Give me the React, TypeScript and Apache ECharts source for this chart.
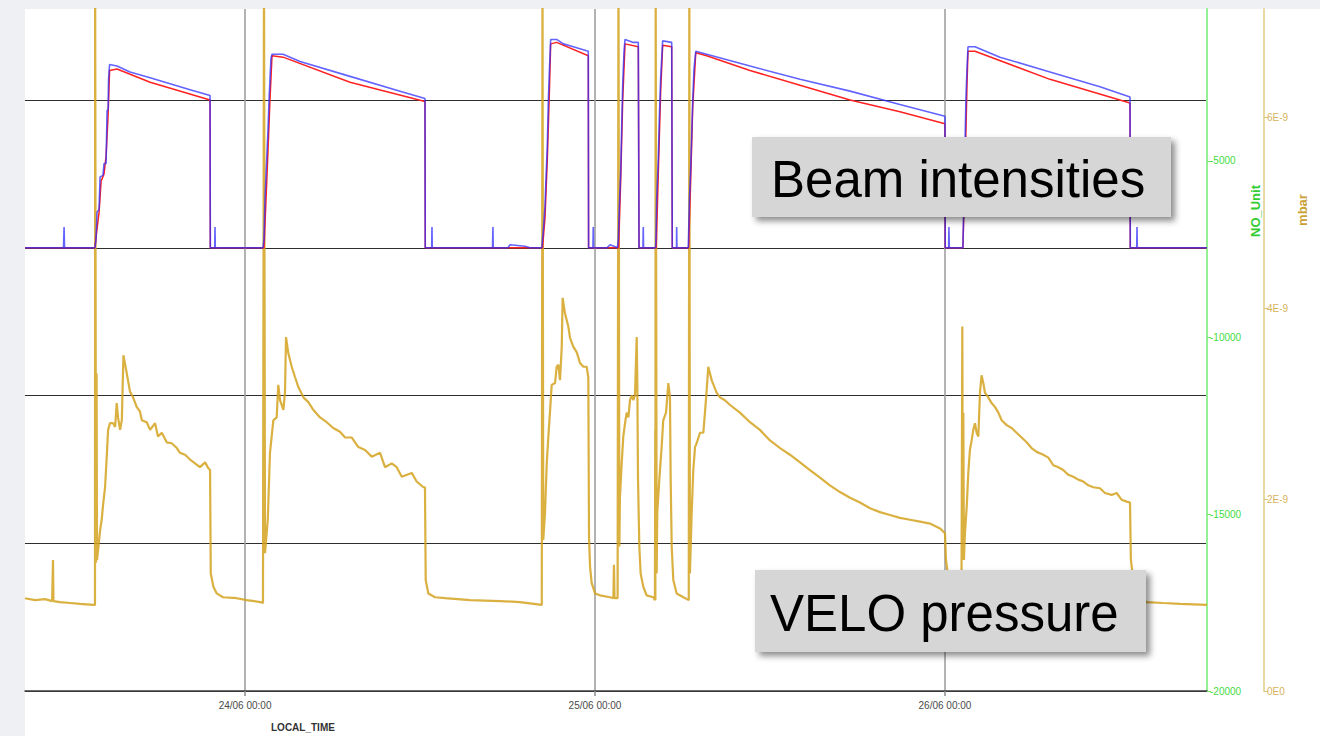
import React, { useEffect, useRef } from "react";
import * as echarts from "echarts";

// Time is kept in hours after 23/06 00:00 (UTC)
const DAY0 = Date.UTC(2010, 5, 23);
const HOUR = 3600 * 1000;
const timeStartH = 8.91;
const timeEndH = 89.97;

// VELO vacuum pressure, in units of 1E-9 mbar
const veloPressure: [number, number][] = [
  [8.91, 0.97], [9.6, 0.95], [10.29, 0.96], [10.77, 0.94], [10.83, 1.37], [10.86, 0.94], [11.31, 0.93], [12.0, 0.92],
  [12.69, 0.91], [13.58, 0.9], [13.71, 0.9], [13.72, 7.6], [13.78, 1.34], [13.82, 3.32], [13.85, 1.37], [13.92, 1.47],
  [14.06, 1.68], [14.17, 1.79], [14.26, 1.94], [14.4, 2.13], [14.54, 2.52], [14.61, 2.73], [14.74, 2.8], [14.95, 2.8],
  [15.09, 2.76], [15.2, 3.01], [15.29, 2.86], [15.43, 2.73], [15.55, 2.83], [15.66, 3.51], [15.89, 3.32], [16.11, 3.13],
  [16.32, 3.07], [16.57, 2.97], [16.8, 2.92], [16.92, 2.83], [17.26, 2.81], [17.49, 2.73], [17.83, 2.8], [18.03, 2.66],
  [18.29, 2.7], [18.63, 2.6], [18.97, 2.59], [19.32, 2.54], [19.54, 2.49], [19.89, 2.47], [20.23, 2.42], [20.57, 2.38],
  [20.91, 2.34], [21.26, 2.39], [21.48, 2.33], [21.6, 2.31], [21.65, 1.23], [21.83, 1.09], [22.06, 1.02], [22.49, 0.98],
  [23.43, 0.97], [24.12, 0.95], [25.03, 0.93], [25.23, 0.92], [25.3, 7.6], [25.37, 1.44], [25.56, 1.79], [25.71, 2.49],
  [25.94, 2.83], [26.17, 2.86], [26.28, 3.2], [26.4, 3.04], [26.63, 2.94], [26.74, 3.12], [26.81, 3.7], [26.97, 3.53],
  [27.2, 3.39], [27.43, 3.28], [27.65, 3.18], [28.0, 3.07], [28.34, 3.02], [28.68, 2.94], [29.14, 2.86], [29.6, 2.81],
  [30.05, 2.75], [30.51, 2.71], [30.86, 2.65], [31.32, 2.65], [31.77, 2.55], [32.23, 2.52], [32.69, 2.45], [33.26, 2.49],
  [33.6, 2.34], [34.06, 2.38], [34.4, 2.34], [34.75, 2.24], [35.43, 2.28], [35.77, 2.19], [36.23, 2.13], [36.34, 2.13],
  [36.39, 1.16], [36.57, 1.02], [37.03, 0.98], [37.71, 0.97], [39.43, 0.95], [41.49, 0.94], [42.86, 0.93], [44.35, 0.9],
  [44.4, 7.6], [44.45, 1.58], [44.57, 1.86], [44.69, 2.38], [44.8, 2.66], [44.91, 2.91], [45.03, 3.2], [45.26, 3.22],
  [45.37, 3.39], [45.49, 3.41], [45.6, 3.25], [45.72, 3.6], [45.78, 4.11], [45.94, 3.95], [46.17, 3.81], [46.29, 3.69],
  [46.51, 3.6], [46.75, 3.54], [46.97, 3.43], [47.2, 3.39], [47.43, 3.39], [47.54, 3.28], [47.59, 1.61], [47.66, 1.3],
  [47.77, 1.13], [48.0, 1.02], [48.34, 1.0], [49.03, 0.98], [49.26, 0.97], [49.3, 1.32], [49.34, 0.97], [49.55, 0.97],
  [49.61, 7.6], [49.67, 1.51], [49.71, 2.03], [49.83, 2.38], [49.94, 2.66], [50.06, 2.8], [50.17, 2.91], [50.29, 2.86],
  [50.4, 3.04], [50.52, 3.09], [50.63, 3.04], [50.74, 3.09], [50.86, 3.7], [50.9, 3.25], [50.95, 2.21], [51.04, 1.51],
  [51.13, 1.23], [51.31, 1.09], [51.54, 1.0], [52.0, 0.98], [52.11, 0.95], [52.13, 2.73], [52.14, 0.95], [52.16, 7.6],
  [52.23, 1.23], [52.27, 1.86], [52.41, 2.21], [52.57, 2.55], [52.68, 2.83], [52.87, 2.91], [53.03, 3.22], [53.14, 3.07],
  [53.19, 2.21], [53.26, 1.51], [53.37, 1.16], [53.6, 1.02], [54.06, 0.98], [54.43, 0.95], [54.47, 7.6], [54.51, 1.23],
  [54.63, 1.86], [54.74, 2.31], [54.86, 2.55], [54.97, 2.59], [55.2, 2.7], [55.43, 2.7], [55.54, 2.91], [55.66, 3.15],
  [55.77, 3.39], [56.0, 3.25], [56.34, 3.12], [56.57, 3.07], [56.91, 3.04], [57.26, 2.99], [57.94, 2.91], [58.63, 2.81],
  [59.31, 2.73], [60.0, 2.62], [60.69, 2.54], [61.37, 2.47], [62.06, 2.39], [62.74, 2.31], [63.43, 2.23], [64.11, 2.15],
  [64.8, 2.08], [65.49, 2.02], [66.17, 1.97], [66.86, 1.91], [67.54, 1.87], [68.23, 1.84], [68.91, 1.81], [69.6, 1.79],
  [70.29, 1.77], [70.97, 1.75], [71.66, 1.7], [72.0, 1.65], [72.07, 1.37], [72.21, 1.21], [72.48, 1.06], [72.89, 0.97],
  [73.13, 0.95], [73.19, 3.81], [73.23, 1.37], [73.26, 2.91], [73.3, 1.37], [73.37, 1.65], [73.49, 1.92], [73.6, 2.28],
  [73.71, 2.52], [73.83, 2.62], [73.94, 2.73], [74.06, 2.8], [74.17, 2.7], [74.29, 2.66], [74.4, 3.12], [74.51, 3.3],
  [74.63, 3.22], [74.74, 3.12], [74.97, 3.07], [75.2, 3.01], [75.43, 2.97], [75.66, 2.91], [75.89, 2.83], [76.23, 2.78],
  [76.57, 2.75], [76.91, 2.7], [77.26, 2.65], [77.6, 2.6], [77.94, 2.54], [78.29, 2.5], [78.74, 2.47], [79.09, 2.44],
  [79.43, 2.36], [79.77, 2.34], [80.11, 2.31], [80.46, 2.26], [80.8, 2.24], [81.14, 2.21], [81.49, 2.19], [81.83, 2.15],
  [82.17, 2.13], [82.63, 2.12], [82.97, 2.07], [83.43, 2.05], [83.77, 2.07], [84.11, 2.0], [84.46, 1.98], [84.69, 1.97],
  [84.75, 1.37], [84.96, 1.11], [85.37, 0.97], [85.83, 0.93], [86.95, 0.92], [88.11, 0.91], [89.97, 0.9],
];

// Beam 1 intensity (blue), arbitrary units
const beam1: [number, number][] = [
  [8.91, 0], [11.55, 0], [11.59, 0.14], [11.62, 0], [13.71, 0], [13.78, 0.06], [13.85, 0.24], [13.99, 0.26],
  [14.06, 0.48], [14.26, 0.49], [14.33, 0.57], [14.47, 0.57], [14.54, 0.93], [14.61, 0.93], [14.64, 1.14], [14.71, 1.24],
  [15.22, 1.23], [16.11, 1.19], [17.49, 1.15], [18.86, 1.11], [20.23, 1.07], [21.6, 1.03], [21.62, 0], [21.92, 0],
  [21.94, 0.14], [21.96, 0], [25.23, 0], [25.3, 0.06], [25.37, 0.33], [25.44, 0.5], [25.58, 0.81], [25.65, 1.01],
  [25.71, 1.14], [25.78, 1.28], [25.85, 1.31], [26.61, 1.31], [27.77, 1.26], [31.2, 1.16], [34.63, 1.06], [36.34, 1.01],
  [36.36, 0], [36.8, 0], [36.82, 0.14], [36.84, 0], [40.97, 0], [41.0, 0.14], [41.02, 0], [42.03, 0],
  [42.17, 0.02], [43.2, 0.01], [43.54, 0], [44.35, 0], [44.45, 0.11], [44.57, 0.28], [44.64, 0.47], [44.73, 0.69],
  [44.8, 0.99], [44.87, 1.19], [44.96, 1.41], [45.37, 1.41], [45.83, 1.38], [46.51, 1.36], [47.54, 1.33], [47.56, 0],
  [47.86, 0], [47.88, 0.14], [47.9, 0], [48.82, 0], [49.03, 0.02], [49.3, 0.01], [49.54, 0], [49.6, 0.06],
  [49.67, 0.28], [49.76, 0.51], [49.83, 0.81], [49.9, 1.1], [49.99, 1.33], [50.06, 1.41], [50.63, 1.39], [50.97, 1.39],
  [51.02, 0], [51.29, 0], [51.31, 0.14], [51.33, 0], [52.15, 0], [52.18, 0.06], [52.23, 0.33], [52.34, 0.6],
  [52.41, 0.87], [52.5, 1.14], [52.64, 1.4], [53.26, 1.39], [53.3, 0], [53.59, 0], [53.6, 0.14], [53.62, 0],
  [54.38, 0], [54.4, 0.01], [54.47, 0.31], [54.56, 0.53], [54.63, 0.76], [54.7, 0.99], [54.79, 1.21], [54.91, 1.33],
  [55.66, 1.31], [58.63, 1.23], [62.06, 1.14], [65.49, 1.06], [68.91, 0.97], [72.0, 0.89], [72.02, 0], [72.25, 0],
  [72.27, 0.14], [72.3, 0], [73.23, 0], [73.3, 0.33], [73.37, 0.67], [73.44, 1.01], [73.51, 1.21], [73.58, 1.36],
  [74.06, 1.36], [75.77, 1.29], [79.2, 1.19], [82.63, 1.09], [84.69, 1.02], [84.71, 0], [85.15, 0], [85.17, 0.14],
  [85.19, 0], [89.97, 0],
];

// Beam 2 intensity (red), arbitrary units
const beam2: [number, number][] = [
  [8.91, 0], [13.71, 0], [13.85, 0.13], [13.99, 0.24], [14.13, 0.45], [14.33, 0.5], [14.47, 0.62], [14.61, 0.9],
  [14.71, 1.2], [15.22, 1.21], [17.49, 1.12], [21.6, 1.0], [21.62, 0], [25.3, 0], [25.44, 0.33], [25.58, 0.67],
  [25.71, 1.0], [25.85, 1.3], [26.61, 1.29], [31.2, 1.12], [36.34, 0.99], [36.36, 0], [44.4, 0], [44.57, 0.2],
  [44.73, 0.6], [44.87, 1.05], [44.96, 1.38], [45.37, 1.39], [47.54, 1.3], [47.56, 0], [49.62, 0], [49.76, 0.45],
  [49.9, 1.0], [50.06, 1.38], [50.97, 1.36], [51.02, 0], [52.2, 0], [52.34, 0.5], [52.5, 1.05], [52.64, 1.37],
  [53.26, 1.36], [53.3, 0], [54.42, 0], [54.56, 0.45], [54.7, 0.95], [54.91, 1.32], [55.66, 1.3], [58.63, 1.2],
  [62.06, 1.1], [65.49, 1.0], [68.91, 0.92], [72.0, 0.84], [72.02, 0], [73.23, 0], [73.37, 0.5], [73.51, 1.1],
  [73.58, 1.33], [74.06, 1.33], [79.2, 1.14], [84.69, 0.98], [84.71, 0], [89.97, 0],
];

// Axis ranges
const beamAxis = { min: -3, max: 1.616, step: 1 };
const noUnitAxis = { min: -20000, max: -702, step: 5000 };
const mbarAxis = { min: 0, max: 7.13, step: 2 };

const SANS = "'Liberation Sans', Arial, sans-serif";

const toTime = (pts: [number, number][]) => pts.map(([h, v]) => [DAY0 + h * HOUR, v]);
const pad = (n: number) => String(n).padStart(2, "0");

export default function App() {
  const ref = useRef<HTMLDivElement>(null);

  useEffect(() => {
    if (!ref.current) return;
    const chart = echarts.init(ref.current, undefined, { renderer: "svg" });
    chart.setOption({
      animation: false,
      useUTC: true,
      backgroundColor: "transparent",
      grid: { left: 25, top: 9, right: 113, bottom: 45, containLabel: false },
      xAxis: {
        type: "time",
        min: DAY0 + timeStartH * HOUR,
        max: DAY0 + timeEndH * HOUR,
        minInterval: 24 * HOUR,
        maxInterval: 24 * HOUR,
        axisLine: { show: true, onZero: false, lineStyle: { color: "#3c3c3c", width: 1.5 } },
        axisTick: { show: true, length: 5, lineStyle: { color: "#8a8a8a", width: 1.5 } },
        splitLine: {
          show: true,
          showMinLine: false,
          showMaxLine: false,
          lineStyle: { color: "#a0a0a0", width: 1.6 },
        },
        minorTick: { show: false },
        axisLabel: {
          color: "#4a4a4a",
          fontSize: 10,
          fontFamily: SANS,
          margin: 9,
          showMinLabel: false,
          showMaxLabel: false,
          hideOverlap: false,
          formatter: (v: number) => {
            const d = new Date(v);
            return `${pad(d.getUTCDate())}/${pad(d.getUTCMonth() + 1)} ${pad(d.getUTCHours())}:${pad(d.getUTCMinutes())}`;
          },
        },
      },
      yAxis: [
        {
          type: "value",
          position: "left",
          min: beamAxis.min,
          max: beamAxis.max,
          interval: beamAxis.step,
          axisLine: { show: false },
          axisTick: { show: false },
          axisLabel: { show: false },
          splitLine: {
            show: true,
            showMaxLine: false,
            lineStyle: { color: "#2e2e2e", width: 1.2 },
          },
        },
        {
          type: "value",
          position: "right",
          offset: 0,
          min: noUnitAxis.min,
          max: noUnitAxis.max,
          interval: noUnitAxis.step,
          axisLine: { show: true, onZero: false, lineStyle: { color: "#93f193", width: 2 } },
          axisTick: { show: true, length: 4, lineStyle: { color: "#70e070", width: 1 } },
          axisLabel: {
            color: "#3fdc3f",
            fontSize: 10,
            fontFamily: SANS,
            margin: 3,
            showMaxLabel: false,
            formatter: (v: number) => String(v),
          },
          splitLine: { show: false },
        },
        {
          type: "value",
          position: "right",
          offset: 57,
          min: mbarAxis.min,
          max: mbarAxis.max,
          interval: mbarAxis.step,
          axisLine: { show: true, onZero: false, lineStyle: { color: "#e9d9a6", width: 2 } },
          axisTick: { show: true, length: 4, lineStyle: { color: "#d9c27e", width: 1 } },
          axisLabel: {
            color: "#d6b35a",
            fontSize: 10,
            fontFamily: SANS,
            margin: 3,
            showMaxLabel: false,
            formatter: (v: number) => (v === 0 ? "0E0" : `${v}E-9`),
          },
          splitLine: { show: false },
        },
      ],
      series: [
        {
          name: "VELO pressure",
          type: "line",
          yAxisIndex: 2,
          data: toTime(veloPressure),
          symbol: "none",
          clip: true,
          lineStyle: { color: "#d4a21e", width: 2.2, opacity: 0.85 },
          z: 2,
        },
        {
          name: "Beam 2",
          type: "line",
          yAxisIndex: 0,
          data: toTime(beam2),
          symbol: "none",
          clip: true,
          lineStyle: { color: "#ff2222", width: 1.5 },
          z: 3,
        },
        {
          name: "Beam 1",
          type: "line",
          yAxisIndex: 0,
          data: toTime(beam1),
          symbol: "none",
          clip: true,
          lineStyle: { color: "#2f2fff", width: 1.6, opacity: 0.75 },
          z: 4,
        },
      ],
      graphic: [
        {
          type: "text",
          left: 271,
          top: 722,
          style: { text: "LOCAL_TIME", font: `bold 10px ${SANS}`, fill: "#333" },
        },
        {
          type: "text",
          x: 1255,
          y: 211,
          rotation: Math.PI / 2,
          style: {
            text: "NO_Unit",
            font: `bold 13px ${SANS}`,
            fill: "#33cc33",
            align: "center",
            verticalAlign: "middle",
          },
        },
        {
          type: "text",
          x: 1302,
          y: 210,
          rotation: Math.PI / 2,
          style: {
            text: "mbar",
            font: `bold 13px ${SANS}`,
            fill: "#c9a032",
            align: "center",
            verticalAlign: "middle",
          },
        },
        {
          type: "rect",
          shape: { x: 752, y: 137, width: 419, height: 80 },
          style: {
            fill: "#d6d6d6",
            shadowBlur: 6,
            shadowOffsetX: 4,
            shadowOffsetY: 4,
            shadowColor: "rgba(0,0,0,0.45)",
          },
          z: 100,
        },
        {
          type: "text",
          x: 771,
          y: 179,
          style: {
            text: "Beam intensities",
            font: `51px ${SANS}`,
            fill: "#000",
            verticalAlign: "middle",
          },
          z: 101,
        },
        {
          type: "rect",
          shape: { x: 755, y: 570, width: 391, height: 82 },
          style: {
            fill: "#d6d6d6",
            shadowBlur: 6,
            shadowOffsetX: 4,
            shadowOffsetY: 4,
            shadowColor: "rgba(0,0,0,0.45)",
          },
          z: 100,
        },
        {
          type: "text",
          x: 770,
          y: 613,
          style: {
            text: "VELO pressure",
            font: `51px ${SANS}`,
            fill: "#000",
            verticalAlign: "middle",
          },
          z: 101,
        },
      ],
    });
    return () => chart.dispose();
  }, []);

  return (
    <div
      style={{
        position: "absolute",
        left: 0,
        top: 0,
        width: 1320,
        height: 736,
        background: "#eef0f3",
        overflow: "hidden",
      }}
    >
      <div style={{ position: "absolute", left: 25, top: 9, right: 0, bottom: 0, background: "#ffffff" }} />
      <div ref={ref} style={{ position: "absolute", left: 0, top: 0, width: 1320, height: 736 }} />
    </div>
  );
}
